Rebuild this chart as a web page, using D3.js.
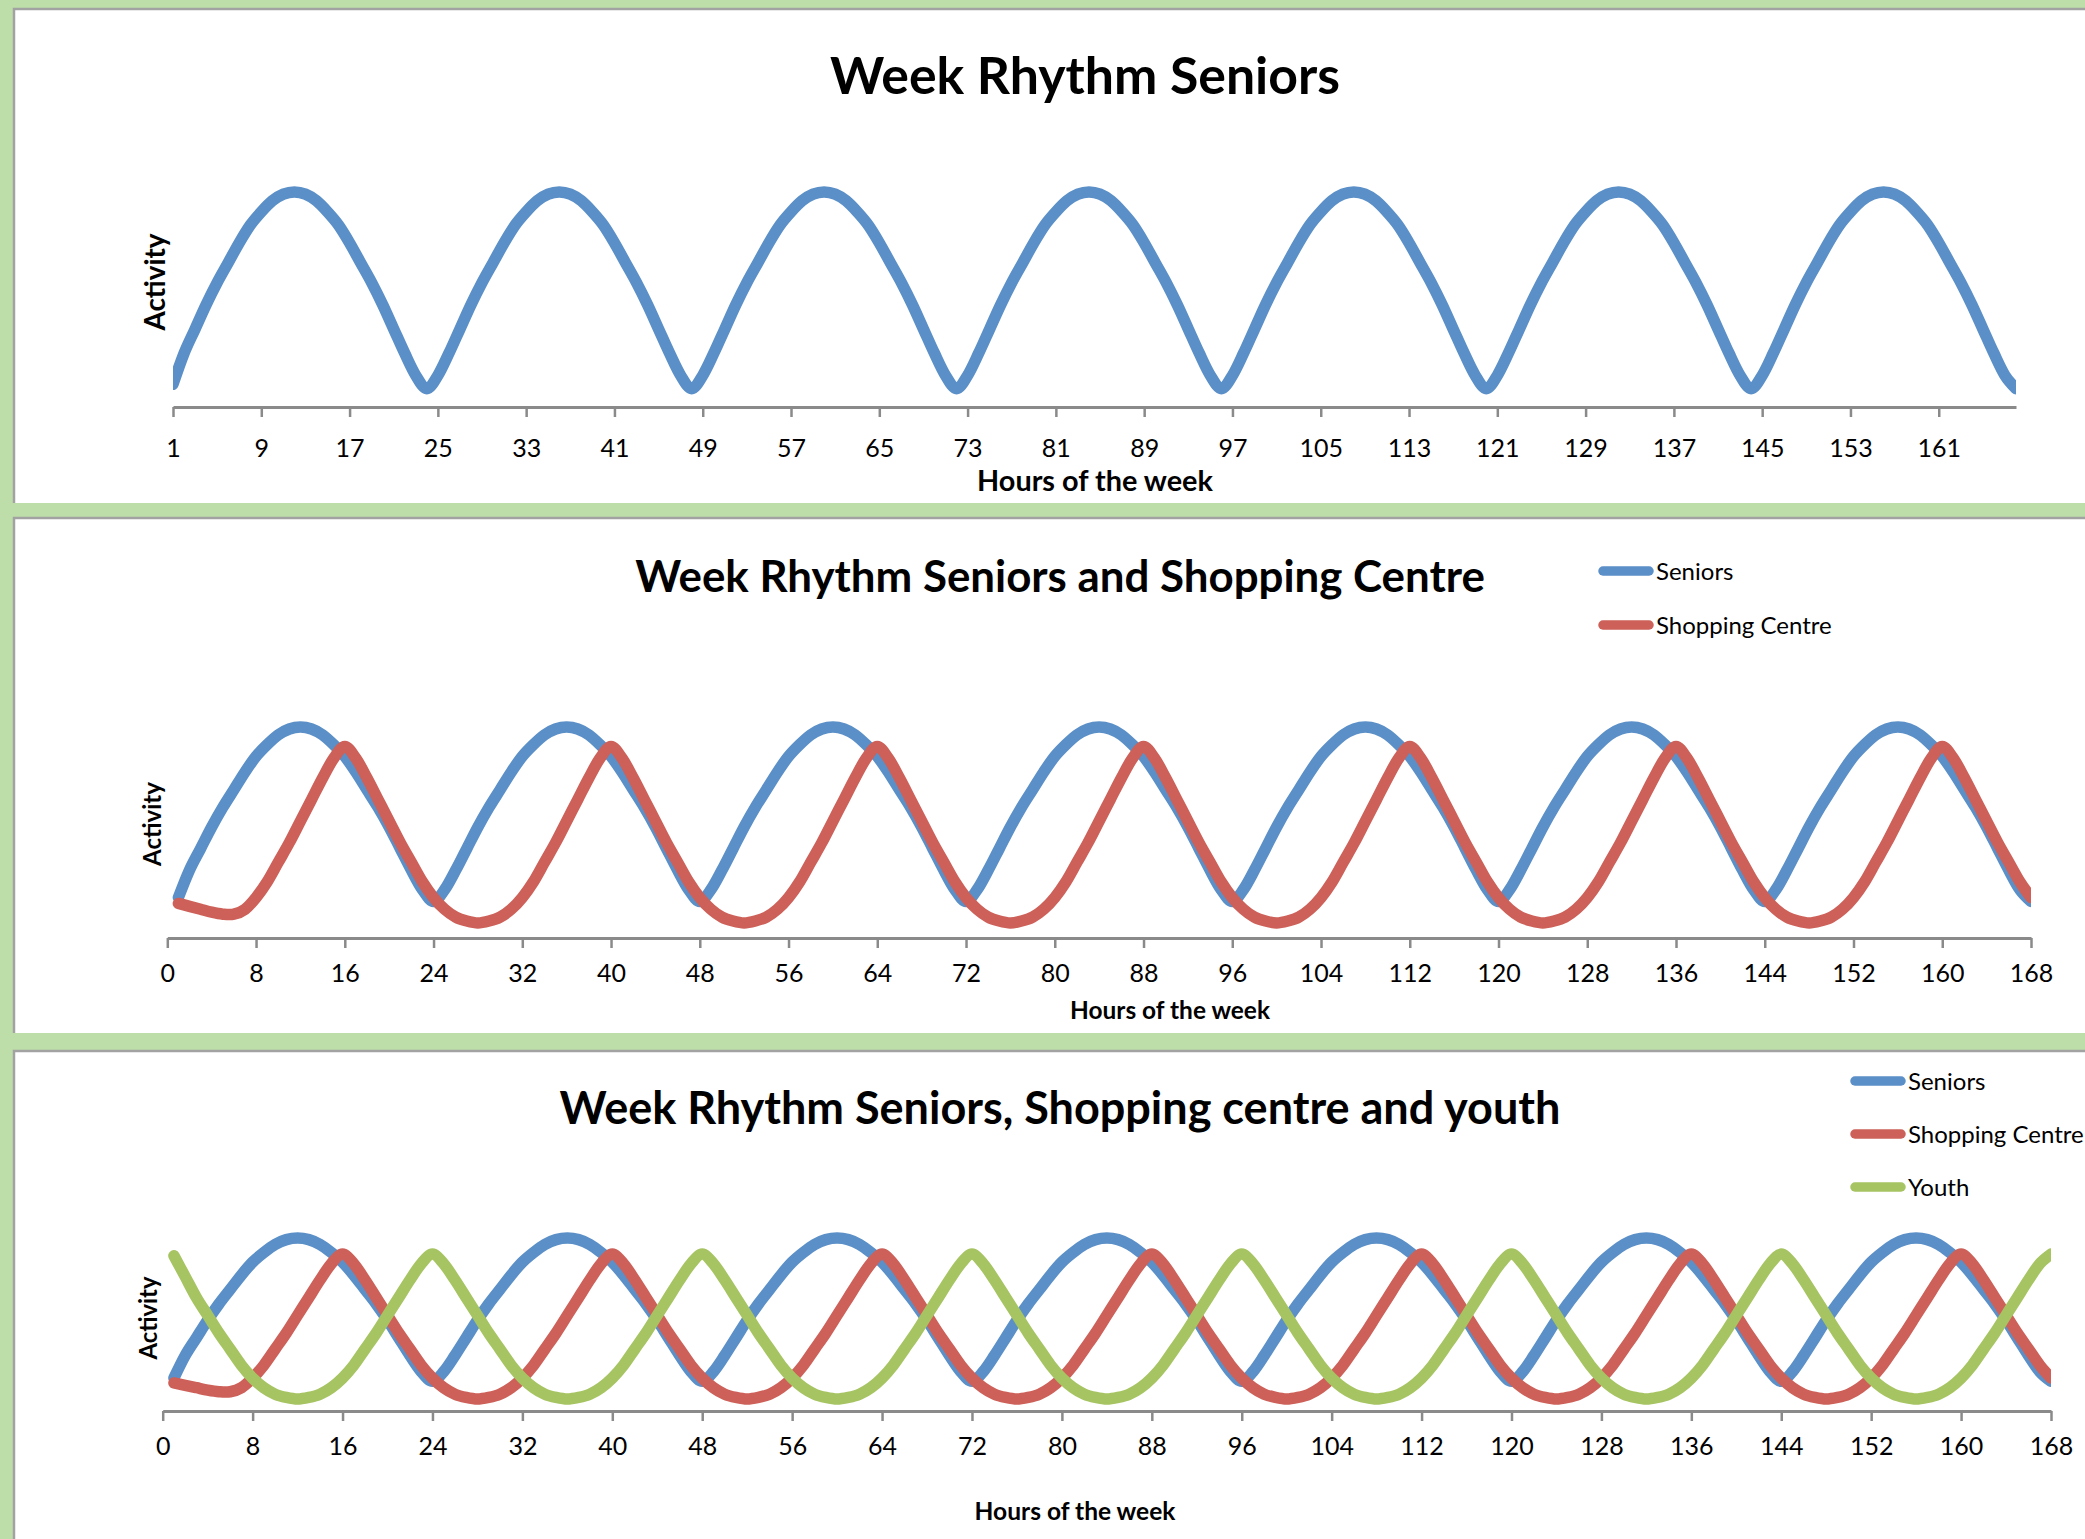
<!DOCTYPE html>
<html>
<head>
<meta charset="utf-8">
<script src="https://cdn.jsdelivr.net/npm/d3@7"></script>
<style>
  html, body { margin: 0; padding: 0; background: #bddea8; overflow: hidden; }
  svg { display: block; }
  text { font-family: Lato, "Open Sans", sans-serif; fill: #000; }
</style>
</head>
<body>
<svg id="chart" width="2085" height="1539"></svg>
<script>
// x categories: hours of the week
var hours = d3.range(1, 169);

// tick labels of the hour axes
var ticksTop = [1, 9, 17, 25, 33, 41, 49, 57, 65, 73, 81, 89, 97, 105, 113, 121, 129, 137, 145, 153, 161];
var ticksLower = [0, 8, 16, 24, 32, 40, 48, 56, 64, 72, 80, 88, 96, 104, 112, 120, 128, 136, 144, 152, 160, 168];

// activity per hour (arbitrary 0-100 units)
var seniors = [
  13, 27, 38, 49, 59, 68, 77, 85, 91, 96, 99, 100, 99, 96, 91, 85, 77, 68, 59, 49, 38, 27, 17, 11,
  17, 27, 38, 49, 59, 68, 77, 85, 91, 96, 99, 100, 99, 96, 91, 85, 77, 68, 59, 49, 38, 27, 17, 11,
  17, 27, 38, 49, 59, 68, 77, 85, 91, 96, 99, 100, 99, 96, 91, 85, 77, 68, 59, 49, 38, 27, 17, 11,
  17, 27, 38, 49, 59, 68, 77, 85, 91, 96, 99, 100, 99, 96, 91, 85, 77, 68, 59, 49, 38, 27, 17, 11,
  17, 27, 38, 49, 59, 68, 77, 85, 91, 96, 99, 100, 99, 96, 91, 85, 77, 68, 59, 49, 38, 27, 17, 11,
  17, 27, 38, 49, 59, 68, 77, 85, 91, 96, 99, 100, 99, 96, 91, 85, 77, 68, 59, 49, 38, 27, 17, 11,
  17, 27, 38, 49, 59, 68, 77, 85, 91, 96, 99, 100, 99, 96, 91, 85, 77, 68, 59, 49, 38, 27, 17, 11
];
var shopping = [
  10, 8.5, 7, 5.5, 4.5, 4.5, 7, 13, 21, 31, 41, 52, 63, 74, 84, 90, 84, 74, 63, 52, 41, 31, 21, 13,
  7, 3, 1, 0, 1, 3, 7, 13, 21, 31, 41, 52, 63, 74, 84, 90, 84, 74, 63, 52, 41, 31, 21, 13,
  7, 3, 1, 0, 1, 3, 7, 13, 21, 31, 41, 52, 63, 74, 84, 90, 84, 74, 63, 52, 41, 31, 21, 13,
  7, 3, 1, 0, 1, 3, 7, 13, 21, 31, 41, 52, 63, 74, 84, 90, 84, 74, 63, 52, 41, 31, 21, 13,
  7, 3, 1, 0, 1, 3, 7, 13, 21, 31, 41, 52, 63, 74, 84, 90, 84, 74, 63, 52, 41, 31, 21, 13,
  7, 3, 1, 0, 1, 3, 7, 13, 21, 31, 41, 52, 63, 74, 84, 90, 84, 74, 63, 52, 41, 31, 21, 13,
  7, 3, 1, 0, 1, 3, 7, 13, 21, 31, 41, 52, 63, 74, 84, 90, 84, 74, 63, 52, 41, 31, 21, 13
];
var youth = [
  89, 76, 63, 52, 41, 31, 21, 13, 7, 3, 1, 0, 1, 3, 7, 13, 21, 31, 41, 52, 63, 74, 84, 90,
  84, 74, 63, 52, 41, 31, 21, 13, 7, 3, 1, 0, 1, 3, 7, 13, 21, 31, 41, 52, 63, 74, 84, 90,
  84, 74, 63, 52, 41, 31, 21, 13, 7, 3, 1, 0, 1, 3, 7, 13, 21, 31, 41, 52, 63, 74, 84, 90,
  84, 74, 63, 52, 41, 31, 21, 13, 7, 3, 1, 0, 1, 3, 7, 13, 21, 31, 41, 52, 63, 74, 84, 90,
  84, 74, 63, 52, 41, 31, 21, 13, 7, 3, 1, 0, 1, 3, 7, 13, 21, 31, 41, 52, 63, 74, 84, 90,
  84, 74, 63, 52, 41, 31, 21, 13, 7, 3, 1, 0, 1, 3, 7, 13, 21, 31, 41, 52, 63, 74, 84, 90,
  84, 74, 63, 52, 41, 31, 21, 13, 7, 3, 1, 0, 1, 3, 7, 13, 21, 31, 41, 52, 63, 74, 84, 90
];

var seriesNames = ["Seniors", "Shopping Centre", "Youth"];
var seriesData = [seniors, shopping, youth];
var colors = ["#5b8fc7", "#cd6058", "#a6c462"];

var titles = [
  "Week Rhythm Seniors",
  "Week Rhythm Seniors and Shopping Centre",
  "Week Rhythm Seniors, Shopping centre and youth"
];

// layout of the three stacked charts (pixels)
var panels = [
  { top: 10, bottom: 503, title: titles[0], tx: 1085, ty: 94, tw: 510,
    xDomain: [1, 168], x0: 173, x1: 2016, ticks: ticksTop, yLow: 413, yHigh: 192,
    axisY: 407, labelY: 448, hx: 1095, hy: 481, hw: 236, ax: 155, ay: 282, aw: 97,
    nSeries: 1, legend: null },
  { top: 519, bottom: 1033, title: titles[1], tx: 1060, ty: 592, tw: 850,
    xDomain: [0, 168], x0: 167.3, x1: 2031, ticks: ticksLower, yLow: 923, yHigh: 727,
    axisY: 938, labelY: 973, hx: 1170, hy: 1010, hw: 200, ax: 152, ay: 824, aw: 84,
    nSeries: 2, legend: { x: 1603, y: 571, step: 54 } },
  { top: 1052, bottom: 1545, title: titles[2], tx: 1060, ty: 1124, tw: 1001,
    xDomain: [0, 168], x0: 162.7, x1: 2051, ticks: ticksLower, yLow: 1399, yHigh: 1238,
    axisY: 1411, labelY: 1446, hx: 1075, hy: 1511, hw: 201, ax: 148, ay: 1318, aw: 83,
    nSeries: 3, legend: { x: 1855, y: 1081, step: 53 } }
];

var svg = d3.select("#chart");
var axisColor = "#8a8a8a";

// shrink or grow a text until it has the wanted width
function fitText(t, w) {
  var fs = parseFloat(t.attr("font-size"));
  var len = t.node().getComputedTextLength();
  t.attr("font-size", fs * w / len);
}

panels.forEach(function(p, pi) {
  var g = svg.append("g");

  // white chart area with grey top/left border
  g.append("rect")
    .attr("x", 15).attr("y", p.top)
    .attr("width", 2100).attr("height", p.bottom - p.top)
    .attr("fill", "#fff");
  g.append("path")
    .attr("d", "M14," + (p.bottom) + "V" + (p.top - 1) + "H2100")
    .attr("fill", "none").attr("stroke", "#a2a2a2").attr("stroke-width", 2.5);

  var x = d3.scaleLinear().domain(p.xDomain).range([p.x0, p.x1]);
  var y = d3.scaleLinear().domain([0, 100]).range([p.yLow, p.yHigh]);

  // x axis
  var axis = g.append("g")
    .attr("transform", "translate(0," + p.axisY + ")")
    .call(d3.axisBottom(x).tickValues(p.ticks).tickSize(10).tickSizeOuter(0).tickFormat(d3.format("d")));
  axis.select(".domain").attr("stroke", axisColor).attr("stroke-width", 3);
  axis.selectAll(".tick line").attr("stroke", axisColor).attr("stroke-width", 2.5);
  axis.selectAll(".tick text")
    .attr("y", p.labelY - p.axisY).attr("dy", "0.36em")
    .attr("font-size", 25).attr("font-family", "Lato").attr("fill", "#000");

  // lines, clipped to the plot area like the original
  var clipId = "clip" + pi;
  g.append("clipPath").attr("id", clipId)
    .append("rect")
    .attr("x", p.x0).attr("y", p.top)
    .attr("width", p.x1 - p.x0).attr("height", p.axisY - p.top);

  var line = d3.line()
    .x(function(d, i) { return x(hours[i]); })
    .y(function(d) { return y(d); })
    .curve(d3.curveCatmullRom.alpha(0));

  var plot = g.append("g").attr("clip-path", "url(#" + clipId + ")");
  for (var s = 0; s < p.nSeries; s++) {
    plot.append("path")
      .datum(seriesData[s])
      .attr("d", line)
      .attr("fill", "none")
      .attr("stroke", colors[s])
      .attr("stroke-width", 11.5)
      .attr("stroke-linecap", "round")
      .attr("stroke-linejoin", "round");
  }

  // titles
  var t = g.append("text")
    .attr("x", p.tx).attr("y", p.ty)
    .attr("text-anchor", "middle")
    .attr("font-weight", "bold").attr("font-size", 48)
    .text(p.title);
  fitText(t, p.tw);

  var h = g.append("text")
    .attr("x", p.hx).attr("y", p.hy).attr("dy", "0.36em")
    .attr("text-anchor", "middle")
    .attr("font-weight", "bold").attr("font-size", 26)
    .text("Hours of the week");
  fitText(h, p.hw);

  var a = g.append("text")
    .attr("transform", "translate(" + p.ax + "," + p.ay + ") rotate(-90)")
    .attr("dy", "0.36em")
    .attr("text-anchor", "middle")
    .attr("font-weight", "bold").attr("font-size", 26)
    .text("Activity");
  fitText(a, p.aw);

  // legend
  if (p.legend) {
    for (var k = 0; k < p.nSeries; k++) {
      var ly = p.legend.y + k * p.legend.step;
      g.append("line")
        .attr("x1", p.legend.x).attr("x2", p.legend.x + 46)
        .attr("y1", ly).attr("y2", ly)
        .attr("stroke", colors[k]).attr("stroke-width", 9.5)
        .attr("stroke-linecap", "round");
      g.append("text")
        .attr("x", p.legend.x + 53).attr("y", ly).attr("dy", "0.36em")
        .attr("font-size", 24)
        .text(seriesNames[k]);
    }
  }
});
</script>
</body>
</html>
